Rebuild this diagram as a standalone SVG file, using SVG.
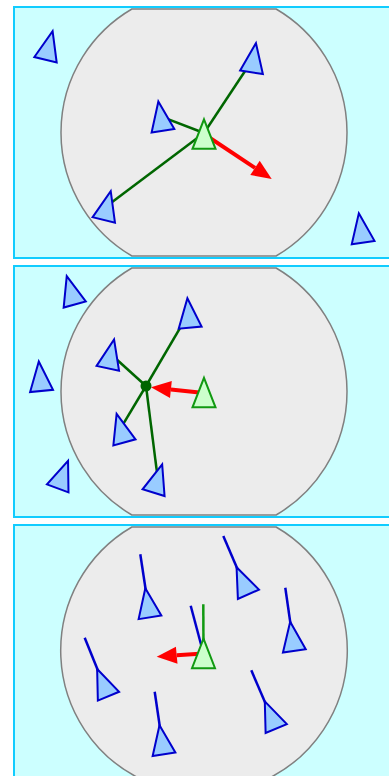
<svg xmlns="http://www.w3.org/2000/svg" xmlns:xlink="http://www.w3.org/1999/xlink" width="389" height="776" viewBox="0 0 389 776">
<style>
.panel{fill:#ccffff;stroke:none}
.border{fill:none;stroke:#11ccff;stroke-width:2}
.range{fill:#ececec;stroke:#808080;stroke-width:1.5}
.boid{fill:#99ccff;stroke:#0000cc;stroke-width:2;stroke-linejoin:miter}
.self{fill:#ccffcc;stroke:#119911;stroke-width:2;stroke-linejoin:miter}
.link{stroke:#006600;stroke-width:2.5;fill:none}
.head{stroke:#0000cc;stroke-width:2.5;fill:none}
.headg{stroke:#119911;stroke-width:2.5;fill:none}
.force{stroke:#ff0000;stroke-width:4;fill:none}
.forcehead{fill:#ff0000;stroke:none}
</style>
<defs>
<polygon id="tri" points="0,-15 11.5,14.5 -11.5,14.5"/>
</defs>

<!-- Panel 1 -->
<g id="panel1">
<rect class="panel" x="14" y="7" width="390" height="251"/>
<path class="range" d="M131.9,9 H276.1 A143,143 0 0 1 276.1,256 H131.9 A143,143 0 0 1 131.9,9 Z"/>
<rect class="border" x="14" y="7" width="390" height="251"/>
</g>
<g id="connectors1">
<line class="link" x1="204" y1="133" x2="253.7" y2="58"/>
<line class="link" x1="204" y1="133" x2="160.7" y2="116.4"/>
<line class="link" x1="204" y1="133" x2="107.2" y2="205.8"/>
<line class="force" x1="204" y1="134" x2="255" y2="167.9"/>
<polygon class="forcehead" points="271.7,179 250.3,175 259.7,160.8"/>
</g>
<g id="p1b1"><use href="#tri" class="boid" transform="translate(49,45.7) rotate(13.9)"/></g>
<g id="p1b2"><use href="#tri" class="boid" transform="translate(253.7,58) rotate(8.7)"/></g>
<g id="p1b3"><use href="#tri" class="boid" transform="translate(160.7,116.4) rotate(-9)"/></g>
<g id="p1b5"><use href="#tri" class="boid" transform="translate(107.2,205.8) rotate(13.6)"/></g>
<g id="p1b6"><use href="#tri" class="boid" transform="translate(361,228.2) rotate(-8.4)"/></g>
<g id="p1self"><use href="#tri" class="self" transform="translate(204,134.3)"/></g>

<!-- Panel 2 -->
<g id="panel2">
<rect class="panel" x="14" y="266" width="390" height="251"/>
<path class="range" d="M131.9,268 H276.1 A143,143 0 0 1 276.1,515 H131.9 A143,143 0 0 1 131.9,268 Z"/>
<rect class="border" x="14" y="266" width="390" height="251"/>
</g>
<g id="connectors2">
<line class="link" x1="146" y1="386" x2="188.8" y2="313.2"/>
<line class="link" x1="146" y1="386" x2="110.9" y2="354.2"/>
<line class="link" x1="146" y1="386" x2="120.6" y2="428.4"/>
<line class="link" x1="146" y1="386" x2="157.8" y2="478.8"/>
<line class="force" x1="204" y1="393" x2="170.9" y2="389.4"/>
<polygon class="forcehead" points="151,387.3 171.8,381 170,397.9"/>
</g>
<g id="p2center"><circle cx="146" cy="386" r="5.5" fill="#006600"/></g>
<g id="p2b1"><use href="#tri" class="boid" transform="translate(70.8,290.5) rotate(-15.7)"/></g>
<g id="p2b2"><use href="#tri" class="boid" transform="translate(40.2,376.5) rotate(-5.4)"/></g>
<g id="p2b3"><use href="#tri" class="boid" transform="translate(62.8,474.8) rotate(20.5)"/></g>
<g id="p2b4"><use href="#tri" class="boid" transform="translate(188.8,313.2) rotate(-5.4)"/></g>
<g id="p2b5"><use href="#tri" class="boid" transform="translate(110.9,354.2) rotate(12.3)"/></g>
<g id="p2b6"><use href="#tri" class="boid" transform="translate(120.6,428.4) rotate(-15.4)"/></g>
<g id="p2b7"><use href="#tri" class="boid" transform="translate(157.8,478.8) rotate(17)"/></g>
<g id="p2self"><use href="#tri" class="self" transform="translate(204,392.8)"/></g>

<!-- Panel 3 -->
<g id="panel3">
<rect class="panel" x="14" y="525" width="390" height="260"/>
<path class="range" d="M131.9,527 H276.1 A143,143 0 0 1 265.3,780 H142.7 A143,143 0 0 1 131.9,527 Z"/>
<rect class="border" x="14" y="525" width="390" height="260"/>
</g>
<g id="connectors3">
<line class="head" x1="147.7" y1="603" x2="140.3" y2="554.3"/>
<line class="head" x1="242.6" y1="581" x2="223.3" y2="536"/>
<line class="head" x1="292.3" y1="636.5" x2="285.3" y2="587.7"/>
<line class="head" x1="102.9" y1="682.8" x2="84.7" y2="637.7"/>
<line class="head" x1="161.8" y1="740" x2="154.7" y2="691.7"/>
<line class="head" x1="270.6" y1="715.2" x2="251.3" y2="670.3"/>
<line class="head" x1="203.5" y1="653.7" x2="190.7" y2="605.7"/>
<line class="headg" x1="203.5" y1="653.7" x2="203.3" y2="604.3"/>
<line class="force" x1="203.5" y1="653.5" x2="176.7" y2="655.3"/>
<polygon class="forcehead" points="156.7,656.7 175.9,646.8 177.5,663.8"/>
</g>
<g id="p3b1"><use href="#tri" class="boid" transform="translate(147.7,603) rotate(-9.1)"/></g>
<g id="p3b2"><use href="#tri" class="boid" transform="translate(242.6,581) rotate(-23.7)"/></g>
<g id="p3b3"><use href="#tri" class="boid" transform="translate(292.3,636.5) rotate(-8.1)"/></g>
<g id="p3b4"><use href="#tri" class="boid" transform="translate(102.9,682.8) rotate(-22.6)"/></g>
<g id="p3b5"><use href="#tri" class="boid" transform="translate(161.8,740) rotate(-8.8)"/></g>
<g id="p3b6"><use href="#tri" class="boid" transform="translate(270.6,715.2) rotate(-22.8)"/></g>
<g id="p3self"><use href="#tri" class="self" transform="translate(203.5,653.7)"/></g>
</svg>
